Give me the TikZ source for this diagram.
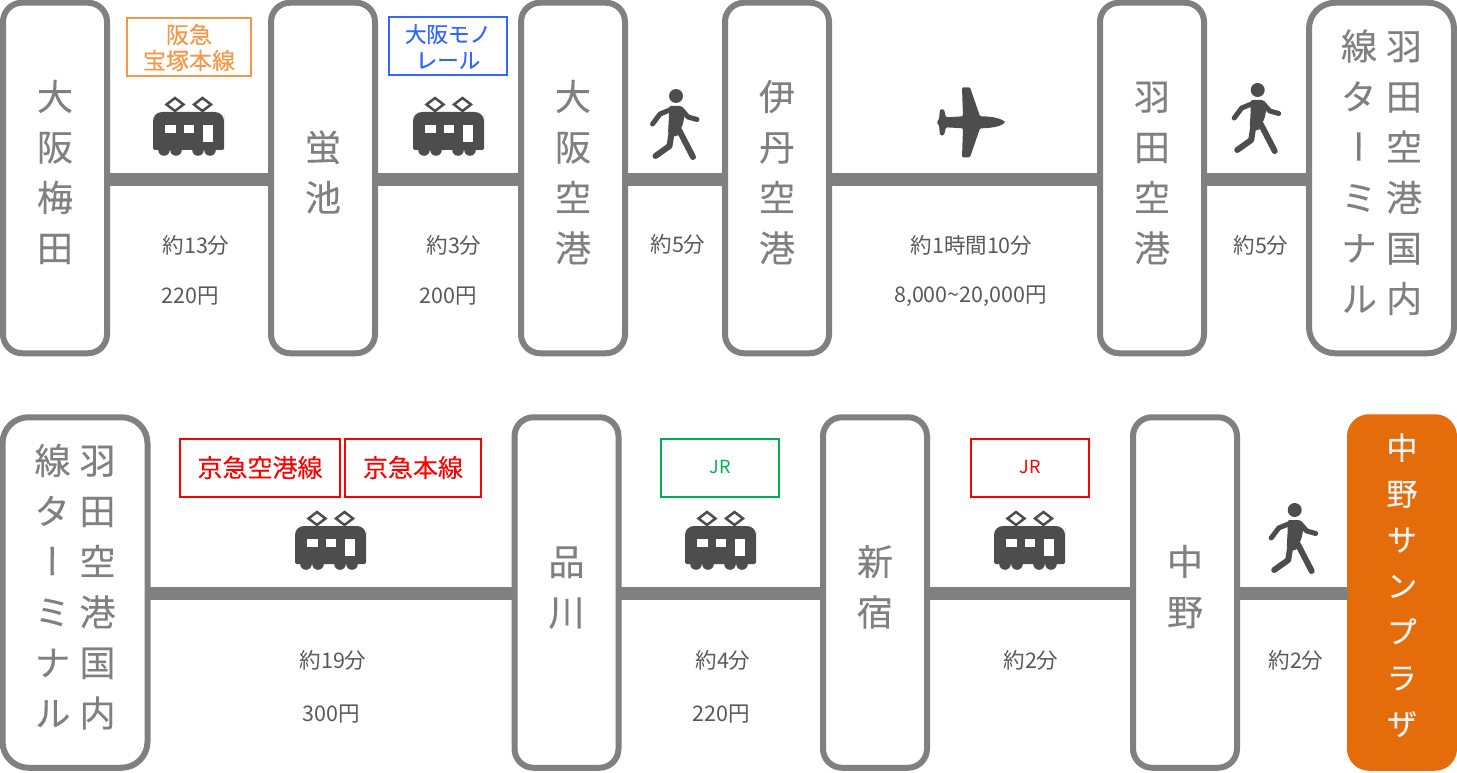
\documentclass[tikz,border=0pt]{standalone}
\usepackage{fontspec}
\setmainfont{Noto Sans CJK JP}
\newfontfamily\tatefont[RawFeature=+vert,FakeBold=0.2]{Noto Sans CJK JP}
\newfontfamily\boxfont[FakeBold=0.25]{Noto Sans CJK JP}
\usepackage{tikz}
\usetikzlibrary{positioning}

\definecolor{stngray}{HTML}{808080}
\definecolor{icongray}{HTML}{4D4D4D}
\definecolor{timegray}{HTML}{595959}
\definecolor{plazaorange}{HTML}{E46C0A}
\definecolor{hankyuorange}{HTML}{F79646}
\definecolor{monoblue}{HTML}{3366FF}
\definecolor{jrgreen}{HTML}{00B050}

\newcommand{\tatetext}[1]{\raisebox{-4pt}[0pt][0pt]{\begin{tabular}{@{}c@{}}#1\end{tabular}}}

\begin{document}
\begin{tikzpicture}[x=1pt,y=-1pt,
    stn/.style = {draw=stngray, line width=6pt, rounded corners=19pt, inner sep=0pt,
                  minimum width=104pt, minimum height=350.5pt, text=stngray,
                  font=\tatefont\fontsize{36}{50.5}\selectfont},
    wide/.style = {minimum width=145pt, rounded corners=26pt},
    link/.style = {draw=stngray, line width=12.7pt, shorten <=-0.5pt, shorten >=-0.5pt},
    times/.style = {text=timegray, inner sep=0pt, font=\fontsize{21.5}{26}\selectfont},
    linebox/.style = {draw=#1, text=#1, line width=2pt, inner sep=0pt, align=center,
                  minimum height=58pt, font=\boxfont\fontsize{23}{26}\selectfont},
    train/.pic = {
      \fill[icongray,rounded corners=1.5pt] (-35.5,19) -- (-35.5,-8) [rounded corners=9pt] -- (-35.5,-19) -- (35.5,-19) -- (35.5,-8) [rounded corners=1.5pt] -- (35.5,19) -- cycle;
      \foreach \wx in {-24.5,-12.5,9.5,21.5} \fill[icongray] (\wx,19) circle (5.8);
      \fill[white] (-24,-6) rectangle (-13,1.7);
      \fill[white] (-5,-6) rectangle (5.5,1.7);
      \fill[white] (14.5,-6) rectangle (24.5,10.7);
      \draw[icongray,line width=2.5pt] (-13.5,-33) -- (-5,-26.5) -- (-13.5,-20) -- (-22,-26.5) -- cycle;
      \draw[icongray,line width=2.5pt] (14,-33) -- (22.5,-26.5) -- (14,-20) -- (5.5,-26.5) -- cycle;
    },
    walker/.pic = {
      \fill[icongray] (0,0) circle (7);
      \fill[icongray,rounded corners=2pt] (-7,10) -- (6,10) -- (9,17) -- (7,28) -- (1,41) -- (-8,38) -- (-7,20) -- cycle;
      \draw[icongray,line width=5pt,line cap=round,line join=round] (-5,13.5) -- (-16,18) -- (-23.5,28);
      \draw[icongray,line width=5pt,line cap=round,line join=round] (5,13) -- (12,21) -- (21,23.5);
      \draw[icongray,line width=6pt,line cap=round,line join=round] (-4,34) -- (-6.5,50) -- (-20.5,60);
      \draw[icongray,line width=6pt,line cap=round,line join=round] (3,34) -- (17,61);
    },
    plane/.pic = {
      \fill[icongray,rounded corners=1.2pt] (40,0) .. controls (36,-4) and (26,-6) .. (15,-6)
        -- (5,-35) -- (-3,-35) -- (-2,-6) -- (-19,-5) -- (-21,-13) -- (-25,-13) -- (-26,-3) -- (-28.5,0)
        -- (-26,3) -- (-25,13) -- (-21,13) -- (-19,5) -- (-2,6) -- (-3,35) -- (5,35) -- (15,6)
        .. controls (26,6) and (36,4) .. (40,0) -- cycle;
    }]
  \useasboundingbox (0,0) rectangle (1457,773);

  % first row
  \node[stn] (ume)      at (55,178)     {\tatetext{大\\阪\\梅\\田}};
  \node[stn] (hotaru)   at (323,178)    {\tatetext{蛍\\池}};
  \node[stn] (osakaku)  at (573,178)    {\tatetext{大\\阪\\空\\港}};
  \node[stn] (itami)    at (777,178)    {\tatetext{伊\\丹\\空\\港}};
  \node[stn] (haneda)   at (1152,178)   {\tatetext{羽\\田\\空\\港}};
  \node[stn,wide] (term_a) at (1381.5,178)
    {\tatetext{線\\タ\\ー\\ミ\\ナ\\ル}\hspace{9pt}\tatetext{羽\\田\\空\\港\\国\\内}};

  % second row
  \node[stn,wide] (term_b) at (75,592.5)
    {\tatetext{線\\タ\\ー\\ミ\\ナ\\ル}\hspace{9pt}\tatetext{羽\\田\\空\\港\\国\\内}};
  \node[stn] (shina)  at (566.5,592.5) {\tatetext{品\\川}};
  \node[stn] (shinju) at (875,592.5)   {\tatetext{新\\宿}};
  \node[stn] (nakano) at (1185,592.5)  {\tatetext{中\\野}};
  \node[stn,draw=plazaorange,fill=plazaorange,text=white!95!black,
        font=\tatefont\fontsize{31}{46}\selectfont] (plaza) at (1402,592.5)
    {\raisebox{-2pt}[0pt][0pt]{\begin{tabular}{@{}c@{}}中\\野\\サ\\ン\\プ\\ラ\\ザ\end{tabular}}};

  \path[link] ([yshift=-1.3pt]ume.east)     edge ([yshift=-1.3pt]hotaru.west)
              ([yshift=-1.3pt]hotaru.east)  edge ([yshift=-1.3pt]osakaku.west)
              ([yshift=-1.3pt]osakaku.east) edge ([yshift=-1.3pt]itami.west)
              ([yshift=-1.3pt]itami.east)   edge ([yshift=-1.3pt]haneda.west)
              ([yshift=-1.3pt]haneda.east)  edge ([yshift=-1.3pt]term_a.west)
              ([yshift=-1pt]term_b.east)    edge ([yshift=-1pt]shina.west)
              ([yshift=-1pt]shina.east)     edge ([yshift=-1pt]shinju.west)
              ([yshift=-1pt]shinju.east)    edge ([yshift=-1pt]nakano.west)
              ([yshift=-1pt]nakano.east)    edge ([yshift=-1pt]plaza.west);

  \node[linebox=hankyuorange,minimum width=124pt] (hankyu) at (189,47.5) {阪急\\宝塚本線};
  \node[linebox=monoblue,minimum width=118pt,font=\boxfont\fontsize{21.5}{26}\selectfont] (mono) at (448,46.5) {大阪モノ\\レール};
  \node[linebox=red,minimum width=160pt,font=\boxfont\fontsize{25}{26}\selectfont]  (kuko)    at (260,467.5)  {京急空港線};
  \node[linebox=red,minimum width=136pt,font=\boxfont\fontsize{25}{26}\selectfont]  (honsen)  at (413,467.5)  {京急本線};
  \node[linebox=jrgreen,minimum width=118pt,font=\fontsize{18}{22}\selectfont] (jr_a) at (720,467.5)  {JR};
  \node[linebox=red,minimum width=118pt,font=\fontsize{18}{22}\selectfont]     (jr_b) at (1030,467.5) {JR};

  \pic at (188.5,131) {train};
  \pic at (448.5,131) {train};
  \pic at (330.5,545) {train};
  \pic at (720.5,545) {train};
  \pic at (1029.5,545) {train};
  \pic at (676,96) {walker};
  \pic at (1257.7,90) {walker};
  \pic at (1294.7,510) {walker};
  \pic at (965,122.3) {plane};

  \node[times] (t_ume)    at (196,245)   {約13分};
  \node[times] (f_ume)    at (190.5,296)   {220円};
  \node[times] (t_mono)   at (454,245)   {約3分};
  \node[times] (f_mono)   at (448.5,296)   {200円};
  \node[times] (t_itami)  at (678,244)   {約5分};
  \node[times] (t_fly)    at (971.5,245)   {約1時間10分};
  \node[times] (f_fly)    at (970.5,296)   {8,000\textasciitilde 20,000円};
  \node[times] (t_term)   at (1261,245)  {約5分};
  \node[times] (t_kei)    at (333,660)   {約19分};
  \node[times] (f_kei)    at (331,714)   {300円};
  \node[times] (t_jr_a)   at (723,660)   {約4分};
  \node[times] (f_jr_a)   at (721,714)   {220円};
  \node[times] (t_jr_b)   at (1031,660)  {約2分};
  \node[times] (t_plaza)  at (1296,660)  {約2分};
\end{tikzpicture}
\end{document}
